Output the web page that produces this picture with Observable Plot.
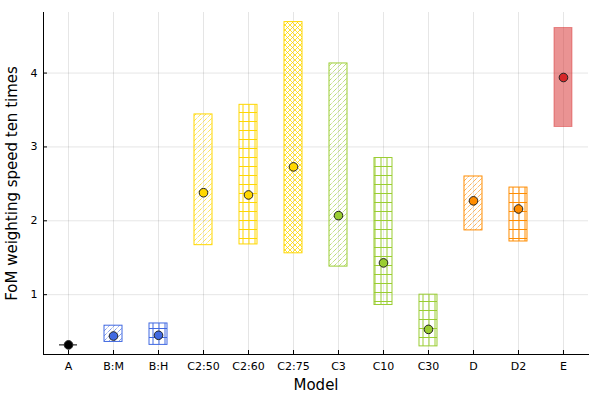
<!DOCTYPE html>
<html>
<head>
<meta charset="utf-8">
<script src="https://cdn.jsdelivr.net/npm/d3@7"></script>
<script src="https://cdn.jsdelivr.net/npm/@observablehq/plot@0.6"></script>
<style>
  body { margin: 0; background: #fff; }
  #chart { width: 600px; height: 400px; }
</style>
</head>
<body>
<div id="chart"></div>
<script>
const models = ["A","B:M","B:H","C2:50","C2:60","C2:75","C3","C10","C30","D","D2","E"];
const lows    = [0.32,0.36,0.32,1.67,1.68,1.56,1.38,0.86,0.30,1.87,1.72,3.27];
const highs   = [0.32,0.58,0.61,3.44,3.57,4.69,4.13,2.85,1.00,2.60,2.45,4.61];
const centers = [0.32,0.44,0.45,2.38,2.35,2.73,2.07,1.43,0.53,2.27,2.16,3.94];
const colors  = ["#000000","#4169e1","#4169e1","#ffd700","#ffd700","#ffd700","#9acd32","#9acd32","#9acd32","#ff8c00","#ff8c00","#d62728"];
const fillStyles = ["none","/","+","/","+","x","/","+","+","/","+","solid"];
const yTicks = [1,2,3,4];

const data = models.map((m, i) => ({model: m, lo: lows[i], hi: highs[i], c: centers[i], color: colors[i], style: fillStyles[i], i}));

const fillFor = d => d.style === "solid" ? d.color : d.style === "none" ? "none" : `url(#pat-${d.i})`;

const boxMarks = data.filter(d => d.hi > d.lo).map(d =>
  Plot.barY([d], {
    x: "model", y1: "lo", y2: "hi",
    fill: fillFor(d),
    fillOpacity: d.style === "solid" ? 0.5 : 1,
    stroke: d.color, strokeWidth: 1,
    strokeOpacity: d.style === "solid" ? 0.45 : 1
  })
);

const flat = data.filter(d => d.hi === d.lo);

const plot = Plot.plot({
  width: 600,
  height: 400,
  marginLeft: 43,
  marginRight: 12,
  marginTop: 12,
  marginBottom: 46,
  style: {fontFamily: "DejaVu Sans", fontSize: "11px", color: "#000", background: "#fff"},
  x: {domain: models, paddingInner: 0.6, paddingOuter: 0.356, round: false, label: null},
  y: {domain: [0.19, 4.82], label: null},
  marks: [
    Plot.gridX({stroke: "#000", strokeOpacity: 0.1}),
    Plot.gridY(yTicks, {stroke: "#000", strokeOpacity: 0.1}),
    ...boxMarks,
    Plot.tickY(flat, {x: "model", y: "lo", stroke: d => d.color, strokeWidth: 1}),
    Plot.dot(data, {x: "model", y: "c", r: 4.3, fill: d => d.color, stroke: "#222", strokeWidth: 1}),
    Plot.frame({anchor: "left", stroke: "#000"}),
    Plot.frame({anchor: "bottom", stroke: "#000"}),
    Plot.axisY(yTicks, {tickSize: -4, tickPadding: 10, fontSize: 11, tickFormat: d => String(d), label: null}),
    Plot.axisX({tickSize: -4, tickPadding: 12, fontSize: 11, label: null}),
    Plot.text(["Model"], {frameAnchor: "bottom", lineAnchor: "middle", dy: 31, fontSize: 15}),
    Plot.text(["FoM weighting speed ten times"], {frameAnchor: "left", textAnchor: "middle", lineAnchor: "middle", dx: -31, rotate: -90, fontSize: 15})
  ]
});

// pattern definitions
const svg = d3.select(plot.tagName.toLowerCase() === "svg" ? plot : plot.querySelector("svg"));
const defs = svg.insert("defs", ":first-child");
data.forEach(d => {
  if (d.style === "/") {
    const p = defs.append("pattern").attr("id", `pat-${d.i}`).attr("patternUnits", "userSpaceOnUse").attr("width", 5).attr("height", 5);
    p.append("path").attr("d", "M-1,1 l2,-2 M0,5 l5,-5 M4,6 l2,-2").attr("stroke", d.color).attr("stroke-width", 0.8).attr("stroke-dasharray", "1.2,0.8");
  } else if (d.style === "+") {
    const p = defs.append("pattern").attr("id", `pat-${d.i}`).attr("patternUnits", "userSpaceOnUse").attr("width", 6).attr("height", 9);
    p.append("path").attr("d", "M3,0 V9 M0,4.5 H6").attr("stroke", d.color).attr("stroke-width", 1);
  } else if (d.style === "x") {
    const p = defs.append("pattern").attr("id", `pat-${d.i}`).attr("patternUnits", "userSpaceOnUse").attr("width", 5).attr("height", 5);
    p.append("path").attr("d", "M0,5 l5,-5 M-1,1 l2,-2 M4,6 l2,-2 M0,0 l5,5 M-1,4 l2,2 M4,-1 l2,2").attr("stroke", d.color).attr("stroke-width", 0.8);
  }
});

document.getElementById("chart").appendChild(plot);
</script>
</body>
</html>
